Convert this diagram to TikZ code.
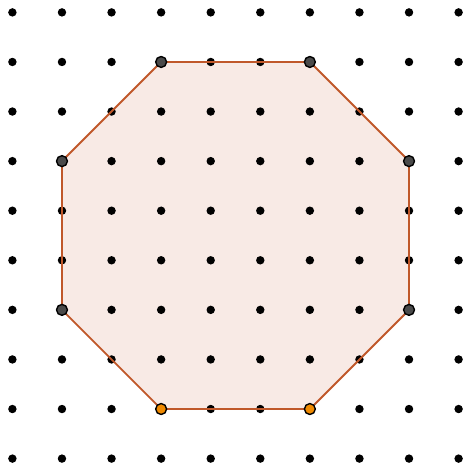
\documentclass[tikz,border=0pt]{standalone}
\usepackage{xcolor}
\usepackage{tikz}
\definecolor{edgebrown}{HTML}{C0582A}
\definecolor{fillpink}{HTML}{F8EAE5}
\definecolor{vertgray}{HTML}{4A4A4A}
\definecolor{vertorange}{HTML}{F08A00}
\tikzset{
    griddot/.style={circle, fill=black, inner sep=0pt, minimum size=0.17cm},
    cornerdot/.style={circle, draw=black, fill=vertgray, line width=0.8pt, inner sep=0pt, minimum size=0.22cm},
    basedot/.style={circle, draw=black, fill=vertorange, line width=0.8pt, inner sep=0pt, minimum size=0.22cm},
    octaedge/.style={draw=edgebrown, line width=1.1pt}
}
\begin{document}
\begin{tikzpicture}
  \useasboundingbox (-0.25,-0.25) rectangle (9.16,9.25);
  % corners of the octagon
  \coordinate (a) at (3,1);
  \coordinate (b) at (6,1);
  \coordinate (c) at (8,3);
  \coordinate (d) at (8,6);
  \coordinate (e) at (6,8);
  \coordinate (f) at (3,8);
  \coordinate (g) at (1,6);
  \coordinate (h) at (1,3);
  \fill[fillpink] (a) -- (b) -- (c) -- (d) -- (e) -- (f) -- (g) -- (h) -- cycle;
  % dot lattice
  \foreach \i in {0,...,9}
    \foreach \j in {0,...,9}
      \node[griddot] (p\i\j) at (\i,\j) {};
  \draw[octaedge] (a) -- (b) -- (c) -- (d) -- (e) -- (f) -- (g) -- (h) -- cycle;
  \foreach \v in {c,d,e,f,g,h}
    \node[cornerdot] at (\v) {};
  \node[basedot] at (a) {};
  \node[basedot] at (b) {};
\end{tikzpicture}
\end{document}
